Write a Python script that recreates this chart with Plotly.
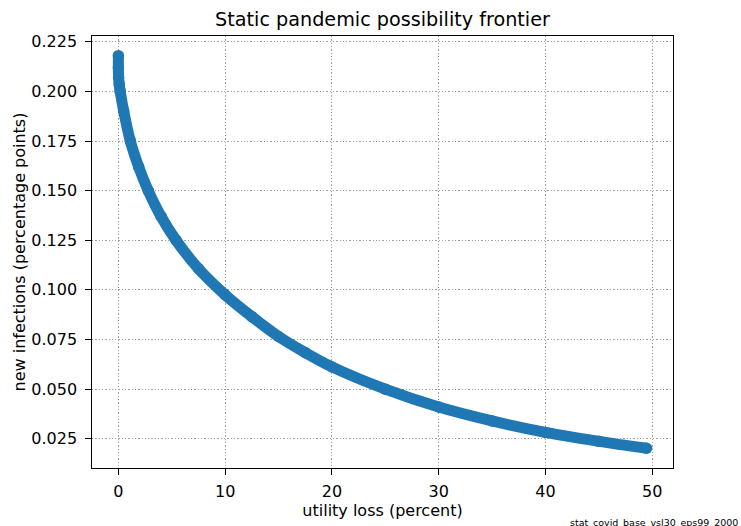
import plotly.graph_objects as go

# Values
utility_loss = [0.0, 0.0, 0.02, 0.08, 0.17, 0.5, 1.12, 1.9, 2.8, 4.0, 5.4, 7.5,
                10.0, 12.5, 15.0, 17.5, 20.0, 25.0, 30.0, 35.0, 40.0, 45.0, 49.46]
new_infections = [0.2180, 0.2120, 0.2070, 0.2035, 0.2000, 0.1900, 0.1750, 0.1620,
                  0.1500, 0.1370, 0.1250, 0.1107, 0.0975, 0.0865, 0.0765, 0.0684,
                  0.0612, 0.0500, 0.0410, 0.0340, 0.0282, 0.0237, 0.0202]
x_ticks = [0, 10, 20, 30, 40, 50]
y_ticks = [0.025, 0.050, 0.075, 0.100, 0.125, 0.150, 0.175, 0.200, 0.225]
title_text = "Static pandemic possibility frontier"
x_label = "utility loss (percent)"
y_label = "new infections (percentage points)"
footer_text = "stat_covid_base_vsl30_eps99_2000"

BLUE = "#1f77b4"
FONT = "DejaVu Sans"

fig = go.Figure()
fig.add_trace(go.Scatter(
    x=utility_loss, y=new_infections,
    mode="lines+markers",
    line=dict(color=BLUE, width=11, shape="spline", smoothing=0.9),
    marker=dict(color=BLUE, size=11.5, line=dict(width=0)),
    hoverinfo="x+y",
    showlegend=False,
))

axis_common = dict(
    showline=True, linecolor="black", linewidth=1.3, mirror=True,
    ticks="outside", ticklen=5.5, tickwidth=1.2, tickcolor="black",
    showgrid=True, gridcolor="#a0a0a0", gridwidth=1, griddash="1.3px,2px",
    zeroline=False, automargin=False,
    tickfont=dict(family=FONT, size=16, color="black"),
)

fig.update_layout(
    width=741, height=526,
    margin=dict(l=92.3, r=68.3, t=36, b=57.7, autoexpand=False),
    paper_bgcolor="white", plot_bgcolor="white",
    font=dict(family=FONT, color="black"),
    title=dict(text=title_text, x=0.5, xref="paper", xanchor="center",
               y=1 - 19 / 526, yref="container", yanchor="middle",
               font=dict(family=FONT, size=19.2, color="black")),
    xaxis=dict(range=[-2.47, 51.94], tickvals=x_ticks,
               ticktext=[str(v) for v in x_ticks],
               title=dict(text=x_label, font=dict(family=FONT, size=16), standoff=3),
               ticklabelstandoff=3,
               **axis_common),
    yaxis=dict(range=[0.01027, 0.2279], tickvals=y_ticks,
               ticktext=[f"{v:.3f}" for v in y_ticks],
               title=dict(text=y_label, font=dict(family=FONT, size=16), standoff=1),
               ticklabelstandoff=5,
               **axis_common),
)

fig.add_annotation(
    text=footer_text, xref="paper", yref="paper",
    x=(740 - 92.3) / 580.4, y=(468.3 - 530) / 432.3,
    xanchor="right", yanchor="bottom", showarrow=False,
    font=dict(family=FONT, size=9.5, color="black"),
)

fig.write_html("out.html", config={"displayModeBar": False},
               post_script="document.body.style.margin='0px';")
